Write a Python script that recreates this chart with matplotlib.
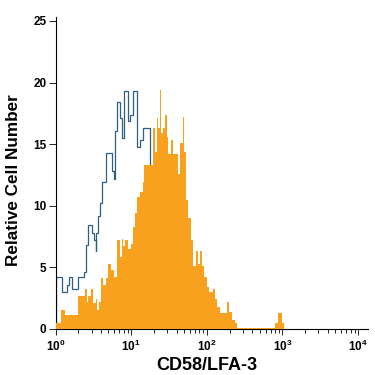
import matplotlib
matplotlib.use("Agg")
import matplotlib.pyplot as plt
from matplotlib.ticker import LogLocator, FixedLocator
import numpy as np

# isotype control (blue outline): bin edges as log10 of fluorescence, heights
control_edges = [0, 0.084, 0.150, 0.172, 0.216, 0.291, 0.379, 0.405, 0.436, 0.480,
                 0.515, 0.529, 0.542, 0.568, 0.590, 0.621, 0.670, 0.744, 0.767, 0.789,
                 0.811, 0.855, 0.877, 0.907, 0.965, 0.987, 1.031, 1.075, 1.119, 1.154,
                 1.251, 1.339, 1.427, 1.515, 1.604, 1.692, 1.802, 1.912, 2.088]
control_counts = [4.2, 3.0, 3.6, 4.2, 3.2, 4.2, 4.6, 6.8, 8.4, 7.8,
                  7.2, 6.3, 7.8, 9.2, 10.2, 11.9, 14.3, 12.8, 12.2, 16.1,
                  18.4, 17.1, 15.5, 19.3, 16.9, 17.4, 19.3, 14.8, 15.3, 16.3,
                  12.0, 10.0, 8.0, 6.0, 4.0, 2.5, 1.2, 0.5]

# CD58 stained (orange fill)
stained_edges = [0, 0.026, 0.070, 0.128, 0.291, 0.392, 0.414, 0.436, 0.467, 0.502,
                 0.537, 0.555, 0.577, 0.604, 0.634, 0.670, 0.700, 0.736, 0.767, 0.819,
                 0.855, 0.877, 0.899, 0.921, 0.965, 0.996, 1.022, 1.053, 1.084, 1.119,
                 1.154, 1.176, 1.295, 1.317, 1.339, 1.361, 1.380, 1.398, 1.427, 1.449,
                 1.471, 1.493, 1.524, 1.551, 1.626, 1.648, 1.680, 1.702, 1.727, 1.758,
                 1.789, 1.824, 1.859, 1.890, 1.912, 1.934, 1.965, 2.000, 2.035, 2.079,
                 2.110, 2.132, 2.176, 2.273, 2.300, 2.330, 2.374, 2.405, 2.903, 2.947,
                 2.991, 3.022]
stained_counts = [0.5, 0.5, 1.5, 1.1, 2.7, 3.2, 2.2, 2.7, 3.2, 2.1,
                  2.4, 1.5, 2.2, 4.1, 3.6, 4.1, 5.3, 4.8, 4.2, 7.2,
                  5.8, 7.3, 6.7, 7.2, 6.5, 6.9, 8.3, 9.4, 10.7, 11.1,
                  11.9, 13.3, 16.3, 14.4, 17.1, 16.3, 19.4, 15.9, 16.3, 17.4,
                  15.6, 14.2, 15.3, 14.2, 12.6, 15.1, 17.2, 14.4, 10.5, 9.0,
                  7.2, 5.1, 6.3, 5.3, 6.3, 5.1, 4.2, 3.4, 3.0, 3.2,
                  2.4, 1.8, 1.3, 2.2, 1.4, 0.7, 0.5, 0.1, 0.5, 1.3,
                  0.5]

y_ticks = [0, 5, 10, 15, 20, 25]
x_decades = [0, 1, 2, 3, 4]

plt.rcParams['font.family'] = ['Liberation Sans', 'DejaVu Sans']

fig = plt.figure(figsize=(3.75, 3.75), dpi=100)
ax = fig.add_axes([0.148, 0.123, 0.833, 0.831])

ax.stairs(control_counts, 10 ** np.array(control_edges), color='#2d5f85',
          linewidth=0.9, baseline=0, zorder=2)
ax.stairs(stained_counts, 10 ** np.array(stained_edges), fill=True,
          color='#f7a11f', linewidth=0, zorder=3)

ax.set_xscale('log')
ax.set_xlim(1, 10 ** 4.13)
ax.set_ylim(0, 25.3)

ax.xaxis.set_major_locator(FixedLocator([10 ** d for d in x_decades]))
ax.set_xticklabels([r'$\mathregular{10^{%d}}$' % d for d in x_decades])
ax.xaxis.set_minor_locator(LogLocator(base=10, subs=np.arange(2, 10), numticks=20))
ax.xaxis.set_minor_formatter(plt.NullFormatter())
ax.set_yticks(y_ticks)

for s in ['top', 'right']:
    ax.spines[s].set_visible(False)
for s in ['left', 'bottom']:
    ax.spines[s].set_linewidth(0.8)

ax.tick_params(axis='y', direction='out', length=5, width=0.6, pad=1.5,
               labelsize=8.5)
ax.tick_params(axis='x', which='major', direction='out', length=4, width=0.6,
               pad=3, labelsize=8.5)
ax.tick_params(axis='x', which='minor', direction='out', length=3, width=0.6)
for lab in ax.get_yticklabels() + ax.get_xticklabels():
    lab.set_fontweight('bold')

ax.set_xlabel('CD58/LFA-3', fontsize=13, fontweight='bold')
ax.xaxis.set_label_coords(0.484, -0.09)
ax.set_ylabel('Relative Cell Number', fontsize=12.3, fontweight='bold')
ax.yaxis.set_label_coords(-0.112, 0.478)

fig.savefig('out.png', dpi=100)
